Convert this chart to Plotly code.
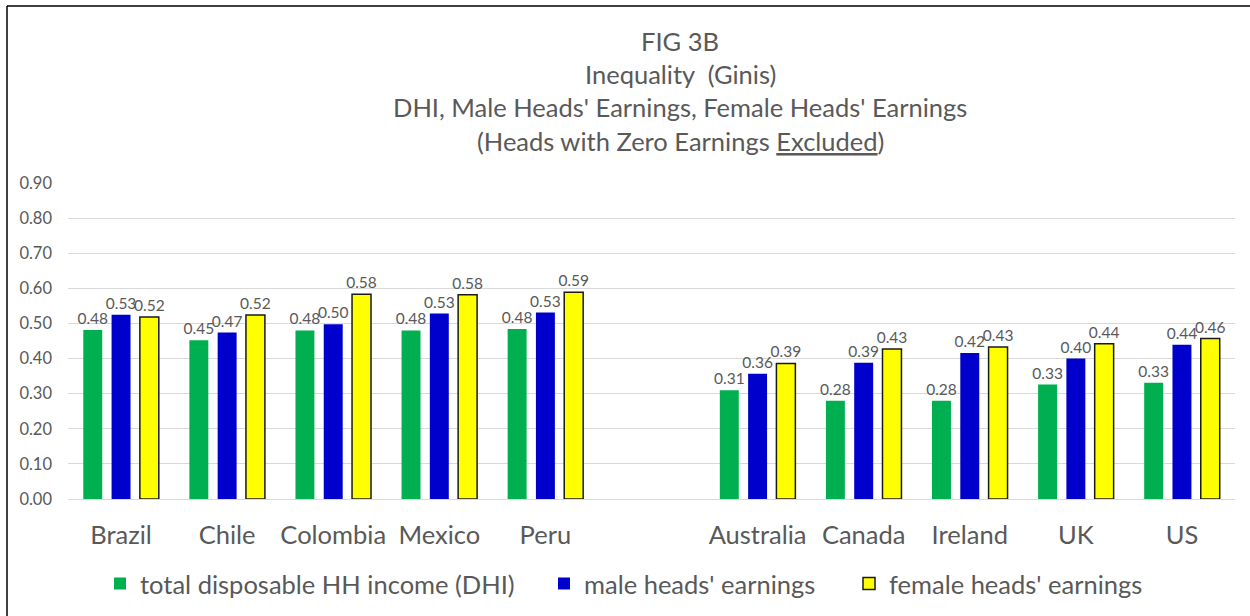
import plotly.graph_objects as go

categories = ["Brazil", "Chile", "Colombia", "Mexico", "Peru", " ",
              "Australia", "Canada", "Ireland", "UK", "US"]
dhi = [0.481, 0.452, 0.480, 0.480, 0.484, None, 0.310, 0.280, 0.280, 0.326, 0.331]
male = [0.525, 0.474, 0.498, 0.528, 0.531, None, 0.357, 0.388, 0.416, 0.400, 0.439]
female = [0.518, 0.524, 0.583, 0.582, 0.589, None, 0.386, 0.427, 0.433, 0.442, 0.457]
y_ticks = [0.0, 0.1, 0.2, 0.3, 0.4, 0.5, 0.6, 0.7, 0.8, 0.9]
title_lines = ["FIG 3B", "Inequality  (Ginis)",
               "DHI, Male Heads' Earnings, Female Heads' Earnings",
               "(Heads with Zero Earnings <u>Excluded</u>)"]

FONT = "Lato, Open Sans, sans-serif"
GRAY = "#595959"

# plot area in pixels
L, R, T, B = 68, 1235, 183, 499
W, H = R - L, B - T


def px_x(px):
    return (px - L) / W


def px_y(py):
    return (B - py) / H


fig = go.Figure()
series = [
    ("total disposable HH income (DHI)", dhi, "#00B050", "#00B050", 0, "legend", 100),
    ("male heads' earnings", male, "#0000CC", "#0000CC", 0, "legend2", 544),
    ("female heads' earnings", female, "#FFFF00", "#1a1a1a", 1.5, "legend3", 849),
]
legend_layout = {}
for name, vals, col, lcol, lw, leg, lx in series:
    fig.add_trace(go.Bar(
        x=categories, y=vals, name=name, legend=leg,
        marker=dict(color=col, line=dict(color=lcol, width=lw)),
        texttemplate="%{y:.2f}", textposition="outside", constraintext="none",
        textfont=dict(size=15.5, color=GRAY, family=FONT),
        cliponaxis=False,
    ))
    legend_layout[leg] = dict(
        orientation="h", x=px_x(lx), xanchor="left", y=px_y(584), yanchor="middle",
        font=dict(size=25.5, color=GRAY, family=FONT), itemwidth=30,
        bgcolor="rgba(0,0,0,0)", borderwidth=0,
    )

annotations = []
for txt, py in zip(title_lines, [41, 74, 107, 141]):
    annotations.append(dict(
        text=txt, xref="paper", yref="paper", x=px_x(680), y=px_y(py),
        xanchor="center", yanchor="middle", showarrow=False,
        font=dict(size=25.5, color=GRAY, family=FONT),
    ))

fig.update_layout(
    width=1250, height=616,
    margin=dict(l=L, r=1250 - R, t=T, b=616 - B, autoexpand=False),
    paper_bgcolor="white", plot_bgcolor="white",
    font=dict(family=FONT, color=GRAY),
    barmode="group", bargap=0.20, bargroupgap=0.33,
    showlegend=True,
    annotations=annotations,
    xaxis=dict(type="category", categoryorder="array", categoryarray=categories,
               showgrid=False, showline=False, ticks="outside", ticklen=13,
               tickcolor="rgba(0,0,0,0)", automargin=False,
               tickfont=dict(size=25.5, color=GRAY, family=FONT)),
    yaxis=dict(range=[0, 0.9], tickvals=y_ticks, tickformat=".2f",
               showgrid=True, gridcolor="#D9D9D9", gridwidth=1,
               zeroline=True, zerolinecolor="#D9D9D9", zerolinewidth=1,
               showline=False, ticks="", ticklabelstandoff=15, automargin=False,
               tickfont=dict(size=16.5, color=GRAY, family=FONT)),
    shapes=[
        dict(type="line", xref="paper", yref="paper", x0=px_x(7), x1=px_x(7),
             y0=px_y(6), y1=px_y(640), line=dict(color="black", width=1.5)),
        dict(type="line", xref="paper", yref="paper", x0=px_x(7), x1=px_x(1260),
             y0=px_y(6), y1=px_y(6), line=dict(color="black", width=1.5)),
    ],
    **legend_layout,
)

fig.write_html("out.html", config={"displayModeBar": False},
               post_script="document.body.style.margin='0';")
